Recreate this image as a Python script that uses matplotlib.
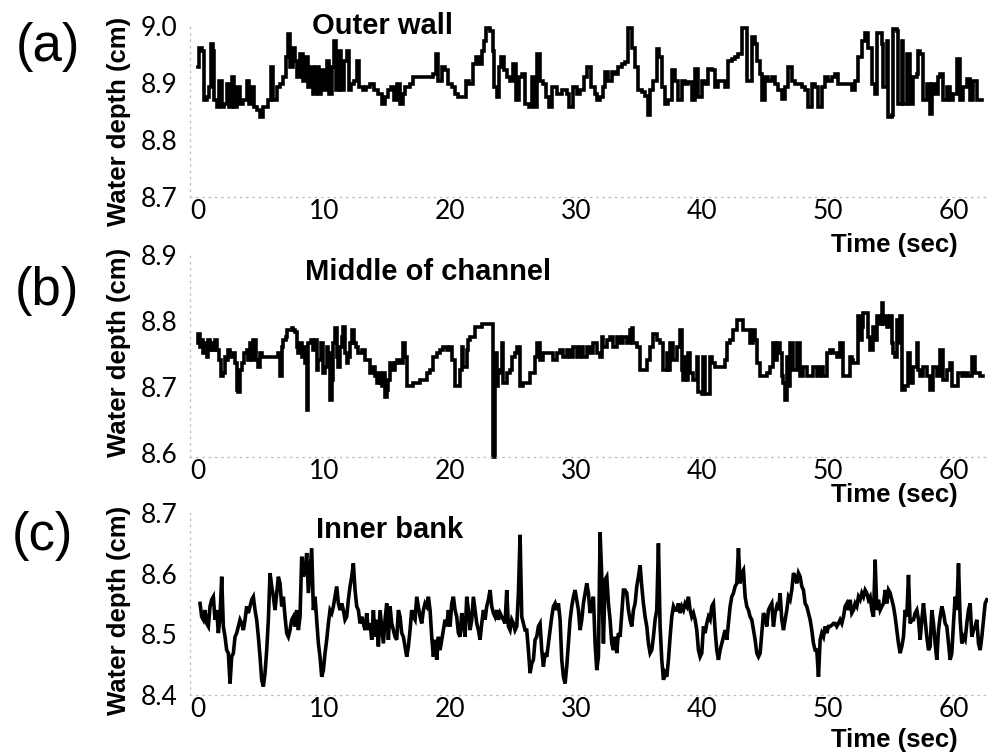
import matplotlib
matplotlib.use("Agg")
import matplotlib.pyplot as plt
import numpy as np

# ---------------- data ----------------
# (a) Outer wall: time (s) and water depth (cm)
t_outer = [0.00,0.08,0.29,0.48,0.74,0.90,1.03,1.16,1.30,1.48,1.69,1.88,2.06,2.28,2.49,2.67,2.86,3.12,3.33,3.60,
           3.86,4.07,4.26,4.44,4.71,4.92,5.13,5.40,5.58,5.77,5.98,6.24,6.51,6.77,6.98,7.14,7.30,7.51,7.70,7.88,
           8.10,8.31,8.52,8.73,8.94,9.15,9.37,9.58,9.79,10.00,10.21,10.42,10.63,10.79,10.95,11.16,11.38,11.59,11.80,11.96,
           12.17,12.38,12.59,12.80,13.07,13.33,13.65,13.97,14.31,14.58,14.84,15.11,15.29,15.56,15.77,16.03,16.24,16.46,16.83,17.09,
           17.49,17.88,18.28,18.68,18.89,19.07,19.34,19.60,19.87,20.13,20.40,20.66,21.01,21.27,21.53,21.80,22.06,22.33,22.54,22.70,
           22.86,23.17,23.39,23.49,23.70,23.89,24.05,24.29,24.55,24.76,24.97,25.24,25.45,25.71,25.98,26.24,26.51,26.72,26.93,27.14,
           27.41,27.62,27.88,28.10,28.47,28.86,29.26,29.47,29.74,30.05,30.32,30.63,30.90,31.16,31.51,
           31.64,31.91,32.17,32.30,32.57,32.83,33.10,33.36,33.63,33.89,34.16,34.42,34.69,34.95,35.21,35.48,35.74,35.88,36.14,36.40,
           36.62,36.80,37.07,37.33,37.60,37.86,38.12,38.39,38.65,38.92,39.18,39.45,39.71,39.98,40.24,40.51,40.77,41.03,41.30,41.56,
           41.83,42.09,42.36,42.62,42.89,43.15,43.41,43.55,43.81,43.94,44.21,44.34,44.61,44.74,45.00,45.27,45.53,45.80,46.06,46.33,
           46.59,46.85,47.12,47.38,47.65,47.91,48.18,48.44,48.71,48.97,49.24,49.50,49.76,50.03,50.29,50.56,50.82,51.09,51.35,51.62,
           51.88,52.15,52.41,52.67,52.94,53.20,53.47,53.73,53.86,54.13,54.26,54.39,54.66,54.79,55.05,55.19,55.45,55.58,55.85,55.98,
           56.25,56.51,56.78,57.04,57.17,57.30,57.57,57.83,58.10,58.23,58.49,58.76,58.89,59.16,59.42,59.68,59.95,60.21,60.48,60.74,
           61.01,61.27,61.53,61.80,62.20]
d_outer = [8.928,8.962,8.957,8.870,8.875,8.893,8.968,8.957,8.870,8.858,8.904,8.858,8.864,8.899,8.858,8.910,8.858,8.893,8.864,8.870,
           8.904,8.864,8.893,8.858,8.852,8.841,8.858,8.858,8.870,8.928,8.870,8.893,8.899,8.910,8.945,8.986,8.928,8.962,8.939,8.910,
           8.951,8.904,8.945,8.893,8.928,8.881,8.928,8.881,8.922,8.887,8.939,8.881,8.928,8.974,8.887,8.957,8.887,8.939,8.957,8.887,
           8.899,8.904,8.939,8.893,8.887,8.893,8.899,8.887,8.881,8.864,8.875,8.887,8.893,8.870,8.899,8.864,8.881,8.893,8.899,8.910,
           8.910,8.910,8.910,8.916,8.951,8.904,8.928,8.922,8.899,8.893,8.881,8.875,8.875,8.904,8.899,8.933,8.945,8.933,8.957,8.974,
           8.997,8.991,8.957,8.893,8.875,8.928,8.945,8.922,8.910,8.904,8.933,8.870,8.910,8.916,8.864,8.858,8.910,8.858,8.951,8.904,
           8.899,8.875,8.858,8.893,8.881,8.887,8.881,8.858,8.893,8.881,8.887,8.910,8.928,8.893,8.881,
           8.870,8.875,8.893,8.919,8.904,8.919,8.916,8.928,8.933,8.936,8.997,8.962,8.928,8.887,8.884,8.878,8.843,8.887,8.904,8.959,
           8.945,8.893,8.864,8.870,8.922,8.904,8.870,8.904,8.899,8.901,8.870,8.925,8.875,8.904,8.899,8.925,8.922,8.893,8.904,8.904,
           8.893,8.939,8.942,8.945,8.951,8.997,8.997,8.904,8.904,8.980,8.968,8.939,8.916,8.870,8.910,8.904,8.910,8.899,8.887,8.872,
           8.893,8.928,8.904,8.899,8.899,8.893,8.887,8.858,8.899,8.893,8.858,8.893,8.910,8.904,8.910,8.916,8.899,8.899,8.899,8.899,
           8.887,8.904,8.945,8.974,8.988,8.962,8.899,8.881,8.988,8.988,8.968,8.893,8.974,8.841,8.843,8.994,8.991,8.864,8.974,8.864,
           8.951,8.864,8.910,8.916,8.957,8.951,8.870,8.899,8.846,8.899,8.881,8.910,8.916,8.870,8.893,8.870,8.881,8.942,8.870,8.893,
           8.907,8.870,8.904,8.870,8.870]

# (b) Middle of channel
t_middle = [0.00,0.03,0.16,0.29,0.42,0.56,0.69,0.82,0.95,1.08,1.22,1.35,1.48,1.69,1.80,1.96,2.14,2.28,2.41,2.54,
            2.75,2.94,3.07,3.20,3.33,3.47,3.65,3.86,3.99,4.13,4.26,4.39,4.60,4.79,4.92,5.05,5.32,5.58,5.85,6.11,
            6.38,6.51,6.64,6.77,6.98,7.09,7.25,7.43,7.57,7.70,7.83,7.96,8.10,8.23,8.36,8.49,8.62,8.76,8.94,9.10,
            9.29,9.42,9.55,9.74,9.89,10.08,10.21,10.34,10.48,10.61,10.74,10.87,11.01,11.14,11.27,11.40,11.53,11.67,11.80,11.93,
            12.06,12.20,12.38,12.54,12.72,12.99,13.25,13.52,13.65,13.86,14.05,14.18,14.31,14.44,14.58,14.71,14.84,14.97,15.11,15.24,
            15.50,15.63,15.77,16.03,16.24,16.43,16.56,16.83,17.09,17.35,17.62,17.88,18.15,18.41,18.68,18.94,19.21,19.47,19.74,20.00,
            20.13,20.40,20.66,20.79,20.93,21.06,21.32,21.46,21.59,21.85,21.98,22.25,22.51,22.78,23.04,23.31,23.44,23.57,23.70,23.84,
            23.97,24.10,24.23,24.50,24.76,24.89,25.16,25.29,25.56,25.82,26.08,26.35,26.61,26.75,26.88,27.14,27.41,27.67,27.94,28.20,
            28.47,28.73,28.99,29.26,29.52,29.79,30.05,30.32,30.58,30.85,31.11,31.38,31.64,
            31.91,32.04,32.17,32.44,32.70,32.97,33.23,33.49,33.76,34.02,34.29,34.42,34.55,34.82,35.08,35.35,35.61,35.88,36.14,36.40,
            36.67,36.93,37.20,37.33,37.46,37.73,37.99,38.26,38.39,38.52,38.65,38.79,38.92,39.05,39.31,39.58,39.71,39.98,40.11,40.24,
            40.51,40.64,40.77,41.03,41.30,41.56,41.83,41.96,42.22,42.49,42.75,43.02,43.28,43.55,43.81,44.08,44.21,44.34,44.61,44.87,
            45.13,45.40,45.61,45.80,45.93,46.06,46.19,46.33,46.46,46.59,46.72,46.85,46.99,47.25,47.52,47.78,48.04,48.31,48.57,48.84,
            49.10,49.37,49.63,49.90,50.16,50.43,50.69,50.95,51.22,51.48,51.75,51.88,52.01,52.28,52.41,52.54,52.67,52.81,53.07,53.20,
            53.34,53.60,53.73,53.86,54.13,54.26,54.39,54.53,54.66,54.92,55.05,55.19,55.32,55.45,55.58,55.72,55.85,56.11,56.38,56.51,
            56.78,57.04,57.17,57.30,57.57,57.83,58.10,58.36,58.63,58.89,59.16,59.42,59.68,59.82,60.08,60.35,60.61,60.88,61.14,61.40,
            61.67,62.07,62.33]
d_middle = [8.766,8.781,8.761,8.771,8.751,8.766,8.746,8.771,8.756,8.766,8.756,8.771,8.756,8.741,8.716,8.721,8.746,8.741,8.756,8.746,
            8.751,8.736,8.695,8.693,8.726,8.736,8.751,8.756,8.741,8.766,8.741,8.771,8.741,8.731,8.751,8.746,8.746,8.746,8.746,8.746,
            8.751,8.716,8.761,8.771,8.776,8.786,8.786,8.789,8.786,8.784,8.761,8.751,8.766,8.746,8.761,8.736,8.665,8.766,8.771,8.756,
            8.771,8.726,8.741,8.766,8.721,8.731,8.761,8.751,8.680,8.711,8.766,8.789,8.746,8.731,8.761,8.776,8.791,8.751,8.736,8.746,
            8.766,8.786,8.766,8.761,8.751,8.756,8.741,8.741,8.721,8.731,8.716,8.706,8.721,8.706,8.701,8.721,8.685,8.695,8.711,8.736,
            8.726,8.736,8.741,8.736,8.766,8.746,8.701,8.701,8.706,8.706,8.711,8.711,8.721,8.726,8.746,8.751,8.756,8.761,8.756,8.761,
            8.741,8.701,8.701,8.726,8.761,8.731,8.756,8.771,8.776,8.776,8.791,8.791,8.796,8.796,8.796,8.796,8.594,8.751,8.701,8.721,
            8.726,8.766,8.706,8.721,8.726,8.746,8.751,8.761,8.701,8.706,8.706,8.721,8.721,8.746,8.766,8.741,8.751,8.751,8.751,8.741,
            8.751,8.756,8.746,8.756,8.746,8.761,8.746,8.761,8.746,8.761,8.751,8.766,8.751,
            8.746,8.776,8.761,8.771,8.776,8.761,8.776,8.766,8.776,8.766,8.786,8.789,8.766,8.761,8.726,8.726,8.741,8.761,8.781,8.771,
            8.766,8.726,8.751,8.726,8.766,8.741,8.761,8.786,8.726,8.711,8.746,8.711,8.751,8.721,8.711,8.746,8.693,8.690,8.746,8.690,
            8.690,8.746,8.736,8.731,8.731,8.731,8.741,8.766,8.771,8.786,8.802,8.802,8.786,8.786,8.766,8.786,8.771,8.736,8.716,8.716,
            8.721,8.731,8.766,8.741,8.766,8.766,8.751,8.716,8.706,8.680,8.746,8.701,8.766,8.726,8.766,8.716,8.731,8.716,8.716,8.731,
            8.716,8.731,8.716,8.751,8.756,8.751,8.746,8.766,8.716,8.716,8.746,8.741,8.736,8.736,8.807,8.771,8.791,8.812,8.812,8.776,
            8.756,8.791,8.771,8.807,8.796,8.827,8.796,8.807,8.791,8.807,8.766,8.751,8.746,8.802,8.766,8.807,8.695,8.701,8.751,8.706,
            8.731,8.766,8.726,8.716,8.731,8.716,8.695,8.731,8.716,8.756,8.711,8.726,8.736,8.701,8.701,8.721,8.716,8.721,8.716,8.746,
            8.721,8.716,8.716]

# (c) Inner bank: evenly sampled record (sample interval in s, first sample time)
t0_inner = 0.16
dt_inner = 0.1323
d_inner = [8.551,8.529,8.524,8.540,8.518,8.513,8.546,8.557,8.562,8.524,8.540,8.502,8.529,8.595,8.513,8.496,8.474,8.469,8.419,8.463,
           8.469,8.496,8.502,8.513,8.524,8.518,8.507,8.524,8.546,8.535,8.546,8.557,8.562,8.540,8.524,8.496,8.463,8.425,8.414,8.436,
           8.474,8.524,8.601,8.579,8.562,8.540,8.568,8.595,8.584,8.546,8.562,8.529,8.502,8.496,8.507,8.524,8.529,8.513,8.540,8.507,
           8.529,8.628,8.595,8.606,8.634,8.568,8.606,8.642,8.540,8.562,8.524,8.485,8.463,8.430,8.441,8.469,8.491,8.518,8.540,8.535,
           8.546,8.562,8.579,8.551,8.540,8.551,8.540,8.524,8.529,8.557,8.579,8.595,8.617,8.573,8.546,8.540,8.518,8.529,8.518,8.507,
           8.535,8.507,8.518,8.491,8.540,8.496,8.524,8.480,8.540,8.513,8.485,8.524,8.551,8.491,8.546,8.518,8.507,8.496,8.491,8.540,
           8.529,8.502,8.496,8.480,8.463,8.480,8.507,8.540,8.529,8.524,8.562,8.546,8.529,8.518,8.540,8.551,8.546,8.562,8.540,8.496,
           8.463,8.491,8.458,8.496,8.474,8.491,8.507,8.524,8.513,8.540,8.513,8.551,8.562,8.540,8.529,8.502,8.496,8.535,8.518,8.496,
           8.562,8.540,8.507,8.524,8.562,8.540,8.518,8.507,8.491,8.518,8.540,8.524,8.546,8.557,8.573,8.546,8.535,8.529,8.540,8.524,
           8.535,8.529,8.524,8.518,8.573,8.513,8.507,8.524,8.518,8.507,8.513,8.568,8.664,8.529,8.518,8.507,8.507,8.474,8.436,8.452,
           8.458,8.491,8.496,8.513,8.518,8.474,8.447,8.469,8.463,8.485,8.507,8.529,8.546,8.551,8.540,8.551,8.524,8.458,8.430,8.419,
           8.447,8.485,8.524,8.546,8.562,8.573,8.557,8.540,8.507,8.524,8.551,8.568,8.584,8.568,8.535,8.551,8.562,8.485,8.441,
           8.463,8.668,8.595,8.485,8.590,8.595,8.551,8.524,8.485,8.474,8.496,8.469,8.502,8.496,8.535,8.573,8.573,8.568,8.540,8.524,
           8.513,8.540,8.551,8.579,8.595,8.614,8.579,8.551,8.529,8.513,8.485,8.469,8.474,8.496,8.524,8.540,8.650,8.513,8.458,8.425,
           8.436,8.430,8.458,8.496,8.529,8.546,8.540,8.540,8.551,8.535,8.546,8.540,8.551,8.546,8.562,8.540,8.529,8.535,8.524,8.507,
           8.474,8.463,8.469,8.513,8.502,8.518,8.529,8.524,8.546,8.551,8.507,8.474,8.458,8.474,8.485,8.496,8.507,8.491,8.518,8.546,
           8.562,8.568,8.579,8.584,8.642,8.584,8.601,8.606,8.562,8.546,8.540,8.529,8.524,8.507,8.491,8.469,8.463,8.469,8.502,8.535,
           8.529,8.513,8.540,8.546,8.551,8.513,8.535,8.546,8.540,8.568,8.524,8.507,8.524,8.540,8.562,8.557,8.573,8.601,8.595,8.584,
           8.601,8.595,8.579,8.573,8.551,8.546,8.535,8.524,8.507,8.485,8.474,8.474,8.430,8.491,8.502,8.496,8.513,8.502,8.513,8.513,
           8.515,8.518,8.518,8.513,8.518,8.524,8.518,8.529,8.546,8.551,8.540,8.557,8.535,8.540,8.551,8.546,8.562,8.557,8.568,8.562,
           8.573,8.568,8.557,8.562,8.540,8.529,8.623,8.540,8.557,8.540,8.546,8.551,8.573,8.551,8.573,8.568,8.557,8.546,8.529,8.507,
           8.485,8.469,8.480,8.496,8.540,8.529,8.598,8.518,8.524,8.524,8.535,8.540,8.524,8.491,8.524,8.551,8.524,8.496,8.474,8.480,
           8.540,8.518,8.485,8.458,8.507,8.529,8.546,8.535,8.518,8.513,8.485,8.458,8.469,8.518,8.562,8.540,8.617,8.524,8.485,8.496,
           8.491,8.518,8.540,8.551,8.496,8.507,8.513,8.524,8.485,8.474,8.496,8.524,8.551,8.557]
t_inner = t0_inner + dt_inner * np.arange(len(d_inner))

titles = ["Outer wall", "Middle of channel", "Inner bank"]
panel_tags = ["(a)", "(b)", "(c)"]
yticks_list = [[8.7, 8.8, 8.9, 9.0], [8.6, 8.7, 8.8, 8.9], [8.4, 8.5, 8.6, 8.7]]
xticks = [0, 10, 20, 30, 40, 50, 60]

# ---------------- layout ----------------
W, H = 988, 754
fig = plt.figure(figsize=(W / 100, H / 100), dpi=100)

def rect(left, top, right, bottom):
    return [left / W, 1 - bottom / H, (right - left) / W, (bottom - top) / H]

x_left_px, x_right_px = 190, 988
px_per_s, x0_px = 12.6, 198
xlim = ((x_left_px - x0_px) / px_per_s, (x_right_px - x0_px) / px_per_s)

panels = [
    dict(box=(26, 197), ylim=(8.7, 9.0), t=t_outer, d=d_outer, step=True,
         title_xy=(382, 26), tag_xy=(48, 47), ylab_y=121, time_y=245),
    dict(box=(255, 457), ylim=(8.594, 8.9), t=t_middle, d=d_middle, step=True,
         title_xy=(428, 272), tag_xy=(47, 291), ylab_y=352, time_y=495),
    dict(box=(513, 695), ylim=(8.4, 8.7), t=t_inner, d=d_inner, step=False,
         title_xy=(390, 530), tag_xy=(42, 536), ylab_y=610, time_y=740),
]

tick_font = "Lato"
bold_font = "Liberation Sans"

for i, p in enumerate(panels):
    top, bottom = p["box"]
    ax = fig.add_axes(rect(x_left_px, top, x_right_px, bottom))
    ax.plot(p["t"], p["d"], color="black", lw=2.6,
            drawstyle="steps-post" if p["step"] else "default",
            solid_joinstyle="miter", clip_on=False)
    ax.set_xlim(*xlim)
    ax.set_ylim(*p["ylim"])
    ax.set_yticks(yticks_list[i])
    ax.set_yticklabels([f"{v:.1f}" for v in yticks_list[i]])
    ax.set_xticks(xticks)
    ax.set_xticklabels([str(v) for v in xticks])
    ax.tick_params(length=0)
    ax.tick_params(axis="y", pad=9)
    ax.tick_params(axis="x", pad=1.5)
    for lab in ax.get_xticklabels() + ax.get_yticklabels():
        lab.set_fontfamily(tick_font)
        lab.set_fontsize(19)
    for s in ["top", "right"]:
        ax.spines[s].set_visible(False)
    for s in ["left", "bottom"]:
        ax.spines[s].set_color("#bdbdbd")
        ax.spines[s].set_linestyle((0, (1, 4)))
        ax.spines[s].set_linewidth(0.9)
    ax.patch.set_alpha(0)

    tx, ty = p["title_xy"]
    fig.text(tx / W, 1 - ty / H, titles[i], ha="center", va="center",
             fontsize=21, fontweight="bold", family=bold_font)
    gx, gy = p["tag_xy"]
    fig.text(gx / W, 1 - gy / H, panel_tags[i], ha="center", va="center",
             fontsize=38, family=bold_font)
    fig.text(119 / W, 1 - p["ylab_y"] / H, "Water depth (cm)", rotation=90,
             ha="center", va="center", fontsize=18.5, fontweight="bold", family=bold_font)
    fig.text(894 / W, 1 - p["time_y"] / H, "Time (sec)", ha="center", va="center",
             fontsize=18.5, fontweight="bold", family=bold_font)

fig.savefig("out.png", dpi=100)
